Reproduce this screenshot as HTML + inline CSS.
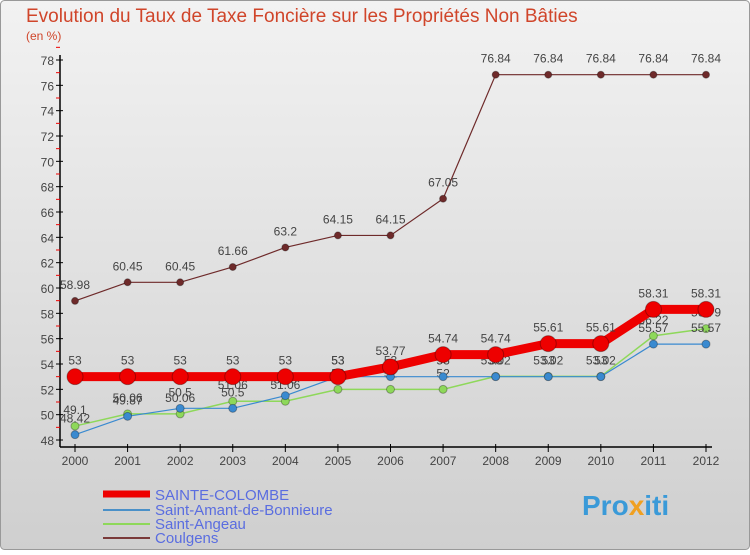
<!DOCTYPE html>
<html><head><meta charset="utf-8"><style>
body{margin:0;}
#c{width:750px;height:550px;position:relative;font-family:"Liberation Sans",sans-serif;}
</style></head><body>
<div id="c">
<svg id="s" width="750" height="550" xmlns="http://www.w3.org/2000/svg">
<defs><linearGradient id="bg" x1="0" y1="0" x2="0" y2="1"><stop offset="0" stop-color="#f2f2f2"/><stop offset="1" stop-color="#cfcfcf"/></linearGradient></defs>
<rect x="0.5" y="0.5" width="749" height="549" rx="4" fill="url(#bg)" stroke="#999"/>
<text x="26" y="22" font-size="19" fill="#d0452a">Evolution du Taux de Taxe Foncière sur les Propriétés Non Bâties</text>
<text x="26" y="40" font-size="12" fill="#d0452a">(en %)</text>
<g id="axes"></g><g id="series"></g>
<g>
<line x1="103" y1="494" x2="150" y2="494" stroke="#e00" stroke-width="7"/>
<text x="155" y="500" font-size="15" fill="#5a6de0">SAINTE-COLOMBE</text>
<line x1="103" y1="510" x2="150" y2="510" stroke="#4a90c8" stroke-width="2"/>
<text x="155" y="515" font-size="15" fill="#5a6de0">Saint-Amant-de-Bonnieure</text>
<line x1="103" y1="524" x2="150" y2="524" stroke="#8ed85a" stroke-width="2"/>
<text x="155" y="529" font-size="15" fill="#5a6de0">Saint-Angeau</text>
<line x1="103" y1="538" x2="150" y2="538" stroke="#7a3a3a" stroke-width="2"/>
<text x="155" y="543" font-size="15" fill="#5a6de0">Coulgens</text>
</g>
<text x="582" y="515" font-size="28" font-weight="bold" fill="#3a9ad8">Pro<tspan fill="#f0a020">x</tspan>iti</text>
</svg></div>
<script>
const years=[2000,2001,2002,2003,2004,2005,2006,2007,2008,2009,2010,2011,2012];
const yTicks=[48,50,52,54,56,58,60,62,64,66,68,70,72,74,76,78];
const sainteColombe=[53,53,53,53,53,53,53.77,54.74,54.74,55.61,55.61,58.31,58.31];
const saintAmant=[48.42,49.87,50.5,50.5,51.5,53,53,53,53,53,53,55.57,55.57];
const saintAngeau=[49.1,50.06,50.06,51.06,51.06,52,52,52,53.02,53.02,53.02,56.22,56.79];
const coulgens=[58.98,60.45,60.45,61.66,63.2,64.15,64.15,67.05,76.84,76.84,76.84,76.84,76.84];
const NS="http://www.w3.org/2000/svg";
const X=i=>75+i*(706-75)/12;
const Y=v=>440-(v-48)*(380/30);
function mk(t,a,p){const e=document.createElementNS(NS,t);for(const k in a)e.setAttribute(k,a[k]);p.appendChild(e);return e;}
const ax=document.getElementById('axes');
const yl=mk('line',{x1:60,y1:55,x2:60,y2:447,stroke:'#000','stroke-width':1.5},ax);


const xl=mk('line',{x1:60,y1:447,x2:712,y2:447,stroke:'#000','stroke-width':1.5},ax);


yTicks.forEach(v=>{
 mk('line',{x1:56,y1:Y(v),x2:63,y2:Y(v),stroke:'#000'},ax);
 mk('line',{x1:56,y1:Y(v+1),x2:60,y2:Y(v+1),stroke:'#e00'},ax);
 const t=mk('text',{x:54,y:Y(v)+5,'text-anchor':'end','font-size':12,fill:'#444'},ax);t.textContent=v;
 
 
});
years.forEach((y,i)=>{
 mk('line',{x1:X(i),y1:444,x2:X(i),y2:452,stroke:'#000'},ax);
 const t=mk('text',{x:X(i),y:465,'text-anchor':'middle','font-size':12,fill:'#444'},ax);t.textContent=y;
 
 
});
const sg=document.getElementById('series');
function series(data,name,color,w,r){
 const g=mk('g',{},sg);
 
 
 mk('polyline',{points:data.map((v,i)=>X(i)+','+Y(v)).join(' '),fill:'none',stroke:color,'stroke-width':w},g);
 data.forEach((v,i)=>{
  const c=mk('circle',{cx:X(i),cy:Y(v),r:r,fill:color,stroke:'rgba(0,0,0,0.3)'},g);
  
  
  const t=mk('text',{x:X(i),y:Y(v)-12,'text-anchor':'middle','font-size':12,fill:'#444'},g);t.textContent=String(v);
 });
}
series(coulgens,'series-coulgens','#6e2a2a',1.2,3.5);
series(saintAngeau,'series-saint-angeau','#8ed85a',1.5,4);
series(saintAmant,'series-saint-amant','#3a8ad0',1.2,4);
series(sainteColombe,'series-sainte-colombe','#e00',9,8);
</script>
</body></html>
